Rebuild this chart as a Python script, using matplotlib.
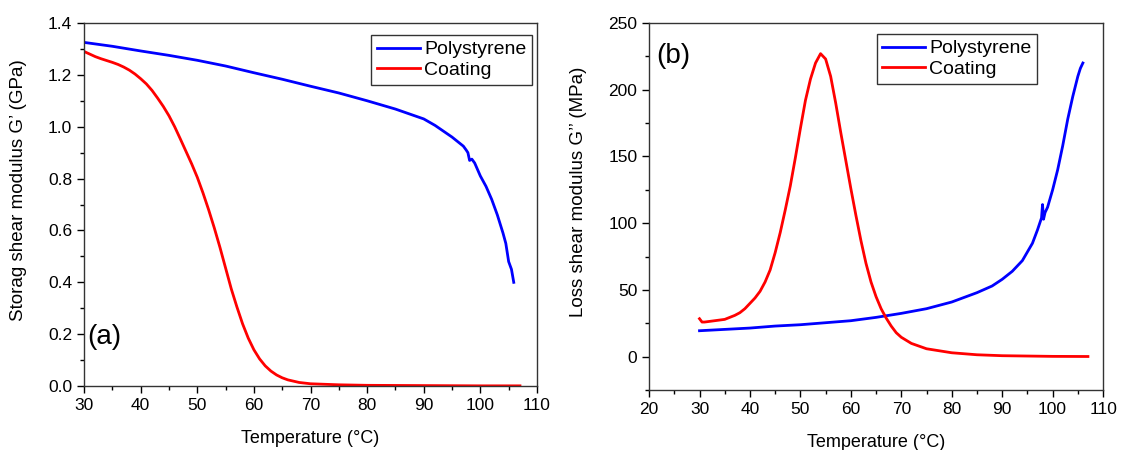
import matplotlib
matplotlib.use("Agg")
import matplotlib.pyplot as plt
from matplotlib.ticker import MultipleLocator

plt.rcParams['font.family'] = ['Liberation Sans', 'DejaVu Sans']

# (a) storage modulus G' (GPa)
ps_T_a = [30, 35, 40, 45, 50, 55, 60, 65, 70, 75, 80, 85, 90, 92, 95, 97, 97.5,
          97.8, 98.1, 98.5, 99, 100, 101, 102, 103, 104, 104.5, 105, 105.5, 105.9]
ps_G1 = [1.325, 1.31, 1.292, 1.275, 1.256, 1.234, 1.208, 1.183, 1.156, 1.13, 1.10,
         1.068, 1.03, 1.005, 0.96, 0.925, 0.91, 0.90, 0.87, 0.875, 0.86, 0.81,
         0.77, 0.72, 0.66, 0.59, 0.55, 0.48, 0.45, 0.40]

ct_T_a = [30, 31, 32, 33, 34, 35, 36, 37, 38, 39, 40, 41, 42, 43, 44, 45, 46, 47,
          48, 49, 50, 51, 52, 53, 54, 55, 56, 57, 58, 59, 60, 61, 62, 63, 64, 65,
          66, 68, 70, 75, 80, 90, 100, 107]
ct_G1 = [1.29, 1.28, 1.27, 1.262, 1.255, 1.248, 1.24, 1.23, 1.218, 1.203, 1.185,
         1.165, 1.14, 1.11, 1.078, 1.042, 1.0, 0.953, 0.905, 0.857, 0.805, 0.745,
         0.68, 0.61, 0.535, 0.455, 0.375, 0.305, 0.24, 0.185, 0.14, 0.105, 0.078,
         0.058, 0.043, 0.032, 0.024, 0.014, 0.009, 0.005, 0.003, 0.002, 0.001, 0.001]

# (b) loss modulus G'' (MPa)
ps_T_b = [30, 35, 40, 45, 50, 55, 60, 65, 70, 75, 80, 85, 88, 90, 92, 94, 96, 97,
          97.8, 98.0, 98.2, 98.5, 99, 100, 101, 102, 103, 104, 105, 105.5, 106]
ps_G2 = [19.5, 20.5, 21.5, 23, 24, 25.5, 27, 29.5, 32.5, 36, 41, 48, 53, 58, 64,
         72, 85, 95, 104, 114, 103, 108, 112, 125, 140, 158, 178, 195, 210, 216, 220]

ct_T_b = [30, 30.5, 31, 33, 35, 37, 38, 39, 40, 41, 42, 43, 44, 45, 46, 47, 48, 49,
          50, 51, 52, 53, 54, 55, 56, 57, 58, 59, 60, 61, 62, 63, 64, 65, 66, 67,
          68, 69, 70, 72, 75, 80, 85, 90, 100, 107]
ct_G2 = [28.5, 26, 26, 27, 28, 31, 33, 36, 40, 44, 49, 56, 65, 78, 93, 110, 128,
         149, 171, 192, 208, 220, 227, 223, 210, 190, 168, 147, 126, 106, 87, 70,
         56, 45, 36, 29, 23, 18, 14.6, 10, 6, 3, 1.5, 0.8, 0.3, 0.2]

fig = plt.figure(figsize=(11.21, 4.5), dpi=100)
ax1 = fig.add_axes([0.075, 0.142, 0.404, 0.807])
ax2 = fig.add_axes([0.579, 0.133, 0.405, 0.816])

ax1.plot(ps_T_a, ps_G1, color="#0000ff", lw=2, label="Polystyrene")
ax1.plot(ct_T_a, ct_G1, color="#ff0000", lw=2, label="Coating")
ax1.set_xlim(30, 110)
ax1.set_ylim(0, 1.4)
ax1.xaxis.set_major_locator(MultipleLocator(10))
ax1.xaxis.set_minor_locator(MultipleLocator(5))
ax1.yaxis.set_major_locator(MultipleLocator(0.2))
ax1.yaxis.set_minor_locator(MultipleLocator(0.1))
ax1.yaxis.set_major_formatter(plt.FormatStrFormatter("%.1f"))
ax1.set_xlabel("Temperature (°C)", fontsize=13, labelpad=12)
ax1.set_ylabel("Storag shear modulus G’ (GPa)", fontsize=13.5)
ax1.yaxis.set_label_coords(-0.126, 0.54)
ax1.text(0.008, 0.135, "(a)", transform=ax1.transAxes, fontsize=20, va="center")

ax2.plot(ps_T_b, ps_G2, color="#0000ff", lw=2, label="Polystyrene")
ax2.plot(ct_T_b, ct_G2, color="#ff0000", lw=2, label="Coating")
ax2.set_xlim(20, 110)
ax2.set_ylim(-25, 250)
ax2.xaxis.set_major_locator(MultipleLocator(10))
ax2.xaxis.set_minor_locator(MultipleLocator(5))
ax2.yaxis.set_major_locator(MultipleLocator(50))
ax2.yaxis.set_minor_locator(MultipleLocator(25))
ax2.set_xlabel("Temperature (°C)", fontsize=13, labelpad=12)
ax2.set_ylabel("Loss shear modulus G’’ (MPa)", fontsize=13.5)
ax2.yaxis.set_label_coords(-0.137, 0.54)
ax2.text(0.016, 0.91, "(b)", transform=ax2.transAxes, fontsize=20, va="center")

for ax, anchor in [(ax1, (0.989, 0.967)), (ax2, (0.855, 0.97))]:
    for s in ax.spines.values():
        s.set_color("#333333")
        s.set_linewidth(1.0)
    ax.tick_params(which="major", direction="out", length=5, width=1,
                   labelsize=12.5, top=False, right=False)
    ax.tick_params(which="minor", direction="out", length=3, width=1,
                   top=False, right=False)
    leg = ax.legend(loc="upper right", bbox_to_anchor=anchor, fontsize=14,
                    frameon=True, fancybox=False, framealpha=1,
                    handlelength=2.2, handletextpad=0.2, borderpad=0.3,
                    labelspacing=0.15, borderaxespad=0)
    leg.get_frame().set_edgecolor("#333333")
    leg.get_frame().set_linewidth(1.0)

fig.savefig("out.png", dpi=100)
